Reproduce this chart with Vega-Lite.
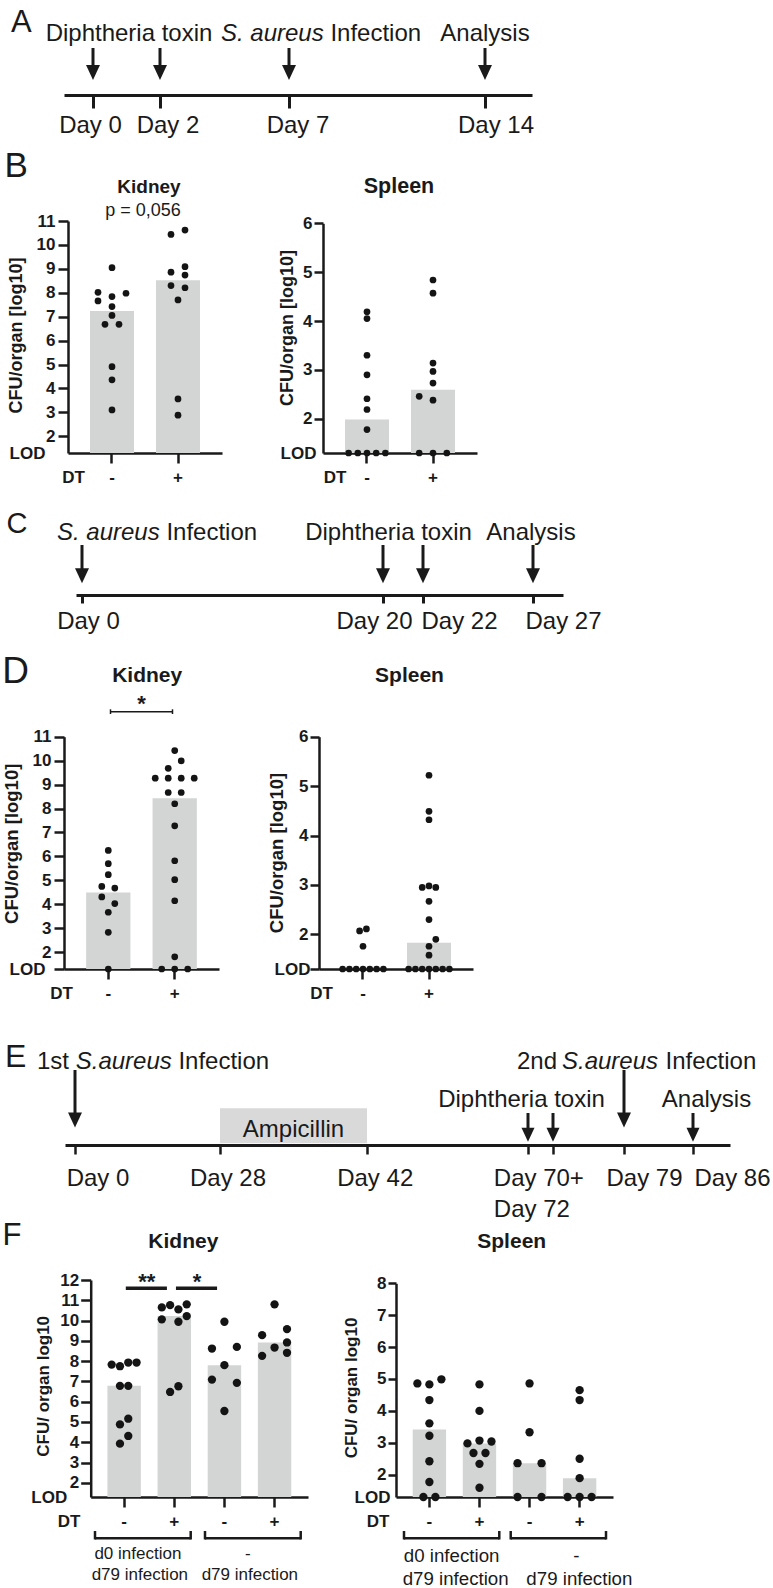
{
  "$schema": "https://vega.github.io/schema/vega-lite/v6.json",
  "padding": 0,
  "background": "white",
  "bounds": "flush",
  "spacing": 0,
  "config": {
    "view": {"stroke": null},
    "font": "Liberation Sans",
    "text": {"font": "Liberation Sans", "color": "#1a1a1a"},
    "axis": {"grid": false, "labelFont": "Liberation Sans", "titleFont": "Liberation Sans", "domainColor": "#1a1a1a", "tickColor": "#1a1a1a", "labelColor": "#1a1a1a", "titleColor": "#1a1a1a", "labelOverlap": false, "labelFlush": false}
  },
  "datasets": {
    "tlA": [{"day": 0, "event": "Diphtheria toxin"}, {"day": 2, "event": "Diphtheria toxin"}, {"day": 7, "event": "S. aureus Infection"}, {"day": 14, "event": "Analysis"}],
    "tlC": [{"day": 0, "event": "S. aureus Infection"}, {"day": 20, "event": "Diphtheria toxin"}, {"day": 22, "event": "Diphtheria toxin"}, {"day": 27, "event": "Analysis"}],
    "tlE": [{"day": 0, "event": "1st S.aureus Infection"}, {"day": 70, "event": "Diphtheria toxin"}, {"day": 72, "event": "Diphtheria toxin"}, {"day": 79, "event": "2nd S.aureus Infection"}, {"day": 86, "event": "Analysis"}],
    "amp": [{"day": 28, "phase": "Ampicillin"}, {"day": 42, "phase": "Ampicillin"}],
    "bk": [
      {"dt": "-", "v": 9.05, "c": 0}, {"dt": "-", "v": 8.02, "c": -2}, {"dt": "-", "v": 7.98, "c": 2}, {"dt": "-", "v": 7.84, "c": 0}, {"dt": "-", "v": 7.66, "c": -2}, {"dt": "-", "v": 7.42, "c": 0}, {"dt": "-", "v": 7.05, "c": 0}, {"dt": "-", "v": 6.68, "c": -1}, {"dt": "-", "v": 6.68, "c": 1}, {"dt": "-", "v": 4.91, "c": 0}, {"dt": "-", "v": 4.36, "c": 0}, {"dt": "-", "v": 3.1, "c": 0},
      {"dt": "+", "v": 10.44, "c": -1}, {"dt": "+", "v": 10.62, "c": 1}, {"dt": "+", "v": 8.86, "c": -1}, {"dt": "+", "v": 9.09, "c": 1}, {"dt": "+", "v": 8.74, "c": 1}, {"dt": "+", "v": 8.3, "c": -1}, {"dt": "+", "v": 8.21, "c": 1}, {"dt": "+", "v": 7.7, "c": 0}, {"dt": "+", "v": 3.56, "c": 0}, {"dt": "+", "v": 2.88, "c": 0}
    ],
    "bs": [
      {"dt": "-", "v": 4.19, "c": 0}, {"dt": "-", "v": 4.05, "c": 0}, {"dt": "-", "v": 3.3, "c": 0}, {"dt": "-", "v": 2.9, "c": 0}, {"dt": "-", "v": 2.41, "c": 0}, {"dt": "-", "v": 2.19, "c": 0}, {"dt": "-", "v": 1.78, "c": 0}, {"dt": "-", "v": 1.3, "c": -2}, {"dt": "-", "v": 1.3, "c": -1}, {"dt": "-", "v": 1.3, "c": 0}, {"dt": "-", "v": 1.3, "c": 1}, {"dt": "-", "v": 1.3, "c": 2},
      {"dt": "+", "v": 4.84, "c": 0}, {"dt": "+", "v": 4.57, "c": 0}, {"dt": "+", "v": 3.14, "c": 0}, {"dt": "+", "v": 2.97, "c": 0}, {"dt": "+", "v": 2.73, "c": 0}, {"dt": "+", "v": 2.46, "c": -1.5}, {"dt": "+", "v": 2.38, "c": 0}, {"dt": "+", "v": 1.3, "c": -1.5}, {"dt": "+", "v": 1.3, "c": 0}, {"dt": "+", "v": 1.3, "c": 1.5}
    ],
    "dk": [
      {"dt": "-", "v": 6.25, "c": 0}, {"dt": "-", "v": 5.7, "c": 0}, {"dt": "-", "v": 5.24, "c": 0}, {"dt": "-", "v": 4.75, "c": -1}, {"dt": "-", "v": 4.68, "c": 1}, {"dt": "-", "v": 4.31, "c": -1}, {"dt": "-", "v": 4.03, "c": 1}, {"dt": "-", "v": 3.67, "c": 0}, {"dt": "-", "v": 2.83, "c": 0}, {"dt": "-", "v": 1.3, "c": 0},
      {"dt": "+", "v": 10.42, "c": 0}, {"dt": "+", "v": 9.99, "c": 1}, {"dt": "+", "v": 9.68, "c": -1}, {"dt": "+", "v": 9.27, "c": -3}, {"dt": "+", "v": 9.27, "c": -1}, {"dt": "+", "v": 9.27, "c": 1}, {"dt": "+", "v": 9.27, "c": 3}, {"dt": "+", "v": 8.67, "c": -1}, {"dt": "+", "v": 8.67, "c": 1}, {"dt": "+", "v": 8.2, "c": 0}, {"dt": "+", "v": 7.28, "c": 0}, {"dt": "+", "v": 5.82, "c": 0}, {"dt": "+", "v": 5.03, "c": 0}, {"dt": "+", "v": 4.15, "c": 0}, {"dt": "+", "v": 1.81, "c": 0}, {"dt": "+", "v": 1.3, "c": -2}, {"dt": "+", "v": 1.3, "c": 0}, {"dt": "+", "v": 1.3, "c": 2}
    ],
    "ds": [
      {"dt": "-", "v": 2.07, "c": -0.5}, {"dt": "-", "v": 2.11, "c": 0.5}, {"dt": "-", "v": 1.76, "c": 0}, {"dt": "-", "v": 1.3, "c": -3}, {"dt": "-", "v": 1.3, "c": -2}, {"dt": "-", "v": 1.3, "c": -1}, {"dt": "-", "v": 1.3, "c": 0}, {"dt": "-", "v": 1.3, "c": 1}, {"dt": "-", "v": 1.3, "c": 2}, {"dt": "-", "v": 1.3, "c": 3},
      {"dt": "+", "v": 5.22, "c": 0}, {"dt": "+", "v": 4.49, "c": 0}, {"dt": "+", "v": 4.32, "c": 0}, {"dt": "+", "v": 2.95, "c": -1}, {"dt": "+", "v": 2.98, "c": 0}, {"dt": "+", "v": 2.95, "c": 1}, {"dt": "+", "v": 2.67, "c": 0}, {"dt": "+", "v": 2.3, "c": 0}, {"dt": "+", "v": 1.9, "c": 1}, {"dt": "+", "v": 1.76, "c": 0}, {"dt": "+", "v": 1.58, "c": 0}, {"dt": "+", "v": 1.3, "c": -3}, {"dt": "+", "v": 1.3, "c": -2}, {"dt": "+", "v": 1.3, "c": -1}, {"dt": "+", "v": 1.3, "c": 0}, {"dt": "+", "v": 1.3, "c": 1}, {"dt": "+", "v": 1.3, "c": 2}, {"dt": "+", "v": 1.3, "c": 3}
    ],
    "fk": [
      {"g": "d0 d79 -", "v": 7.83, "c": -1.5}, {"g": "d0 d79 -", "v": 7.75, "c": -0.5}, {"g": "d0 d79 -", "v": 7.93, "c": 0.5}, {"g": "d0 d79 -", "v": 7.93, "c": 1.5}, {"g": "d0 d79 -", "v": 6.78, "c": -0.5}, {"g": "d0 d79 -", "v": 6.78, "c": 0.5}, {"g": "d0 d79 -", "v": 5.16, "c": 0.5}, {"g": "d0 d79 -", "v": 4.88, "c": -0.5}, {"g": "d0 d79 -", "v": 4.31, "c": 0.5}, {"g": "d0 d79 -", "v": 3.93, "c": -0.5},
      {"g": "d0 d79 +", "v": 10.65, "c": -1.5}, {"g": "d0 d79 +", "v": 10.76, "c": -0.5}, {"g": "d0 d79 +", "v": 10.55, "c": 0.5}, {"g": "d0 d79 +", "v": 10.8, "c": 1.5}, {"g": "d0 d79 +", "v": 10.06, "c": -1.5}, {"g": "d0 d79 +", "v": 9.94, "c": 0.5}, {"g": "d0 d79 +", "v": 10.22, "c": 1.5}, {"g": "d0 d79 +", "v": 6.48, "c": -0.5}, {"g": "d0 d79 +", "v": 6.76, "c": 0.5},
      {"g": "d79 -", "v": 9.94, "c": 0}, {"g": "d79 -", "v": 8.62, "c": -1.5}, {"g": "d79 -", "v": 8.7, "c": 1.5}, {"g": "d79 -", "v": 7.8, "c": 0}, {"g": "d79 -", "v": 7.09, "c": -1.5}, {"g": "d79 -", "v": 6.93, "c": 1.5}, {"g": "d79 -", "v": 5.54, "c": 0},
      {"g": "d79 +", "v": 10.8, "c": 0}, {"g": "d79 +", "v": 9.28, "c": -1.5}, {"g": "d79 +", "v": 9.58, "c": 1.5}, {"g": "d79 +", "v": 8.67, "c": 0}, {"g": "d79 +", "v": 8.92, "c": 1.5}, {"g": "d79 +", "v": 8.26, "c": -1.5}, {"g": "d79 +", "v": 8.41, "c": 1.5}
    ],
    "fs": [
      {"g": "d0 d79 -", "v": 4.86, "c": -2}, {"g": "d0 d79 -", "v": 4.83, "c": 0}, {"g": "d0 d79 -", "v": 4.99, "c": 2}, {"g": "d0 d79 -", "v": 4.34, "c": 0}, {"g": "d0 d79 -", "v": 3.61, "c": 0}, {"g": "d0 d79 -", "v": 3.22, "c": 0}, {"g": "d0 d79 -", "v": 2.42, "c": 0}, {"g": "d0 d79 -", "v": 1.77, "c": 0}, {"g": "d0 d79 -", "v": 1.3, "c": -1}, {"g": "d0 d79 -", "v": 1.3, "c": 1},
      {"g": "d0 d79 +", "v": 4.83, "c": 0}, {"g": "d0 d79 +", "v": 4.0, "c": 0}, {"g": "d0 d79 +", "v": 2.98, "c": -2}, {"g": "d0 d79 +", "v": 3.07, "c": 0}, {"g": "d0 d79 +", "v": 3.04, "c": 2}, {"g": "d0 d79 +", "v": 2.68, "c": -1}, {"g": "d0 d79 +", "v": 2.68, "c": 1}, {"g": "d0 d79 +", "v": 2.34, "c": 0}, {"g": "d0 d79 +", "v": 1.59, "c": 0},
      {"g": "d79 -", "v": 4.86, "c": 0}, {"g": "d79 -", "v": 3.33, "c": 0}, {"g": "d79 -", "v": 2.36, "c": -2}, {"g": "d79 -", "v": 2.36, "c": 2}, {"g": "d79 -", "v": 1.3, "c": -2}, {"g": "d79 -", "v": 1.3, "c": 2},
      {"g": "d79 +", "v": 4.65, "c": 0}, {"g": "d79 +", "v": 4.34, "c": 0}, {"g": "d79 +", "v": 2.5, "c": 0}, {"g": "d79 +", "v": 1.89, "c": 0}, {"g": "d79 +", "v": 1.3, "c": -2}, {"g": "d79 +", "v": 1.3, "c": 0}, {"g": "d79 +", "v": 1.3, "c": 2}
    ],
    "sigD": [{"from": "-", "to": "+", "label": "*"}],
    "sigF": [{"from": "d0 d79 -", "to": "d0 d79 +", "label": "**"}, {"from": "d0 d79 +", "to": "d79 -", "label": "*"}],
    "grpF": [{"inf": "d0 d79", "l1": "d0 infection", "l2": "d79 infection"}, {"inf": "d79", "l1": "-", "l2": "d79 infection"}]
  },
  "vconcat": [
    {
      "width": 773, "height": 95,
      "data": {"name": "tlA"},
      "encoding": {"x": {"field": "day", "type": "quantitative",
        "scale": {"domain": [-1, 0, 2, 7, 14, 16], "range": [64, 93, 160, 289, 485, 532], "nice": false, "zero": false},
        "axis": {"orient": "bottom", "title": null, "values": [0, 2, 7, 14], "labelExpr": "'Day ' + datum.value", "domainWidth": 3, "tickWidth": 3, "tickSize": 13, "labelFontSize": 24, "labelPadding": 5,
          "labelOffset": {"condition": [{"test": "datum.value == 0", "value": -3}, {"test": "datum.value == 2", "value": 7.5}, {"test": "datum.value == 7", "value": 8.5}], "value": 10.5}}}},
      "layer": [
        {"mark": {"type": "rule", "strokeWidth": 3, "color": "#1a1a1a"}, "encoding": {"y": {"value": 48}, "y2": {"value": 69}}},
        {"mark": {"type": "point", "shape": "M-0.93,-1L0.93,-1L0,1Z", "filled": true, "size": 225, "opacity": 1, "color": "#1a1a1a"}, "encoding": {"y": {"value": 72.5}}},
        {"data": {"values": [{}]}, "mark": {"type": "point", "shape": "M-1,-0.74L1,0L-1,0.74Z", "filled": true, "size": 324, "opacity": 1, "color": "#1a1a1a", "xOffset": -9}, "encoding": {"x": {"datum": 16}, "y": {"value": 95}}},
        {"transform": [{"filter": "datum.event == 'Diphtheria toxin'"}], "mark": {"type": "text", "fontSize": 24, "baseline": "alphabetic", "dx": 2.5}, "encoding": {"x": {"aggregate": "mean", "field": "day", "type": "quantitative"}, "y": {"value": 41}, "text": {"field": "event"}}},
        {"transform": [{"filter": "datum.event == 'S. aureus Infection'"}], "mark": {"type": "text", "fontSize": 24, "fontStyle": "italic", "align": "right", "baseline": "alphabetic", "dx": 34.7}, "encoding": {"y": {"value": 41}, "text": {"value": "S. aureus"}}},
        {"transform": [{"filter": "datum.event == 'S. aureus Infection'"}], "mark": {"type": "text", "fontSize": 24, "align": "left", "baseline": "alphabetic", "dx": 41.4}, "encoding": {"y": {"value": 41}, "text": {"value": "Infection"}}},
        {"transform": [{"filter": "datum.event == 'Analysis'"}], "mark": {"type": "text", "fontSize": 24, "baseline": "alphabetic"}, "encoding": {"y": {"value": 41}, "text": {"field": "event"}}},
        {"data": {"values": [{}]}, "mark": {"type": "text", "fontSize": 31, "align": "left", "baseline": "alphabetic"}, "encoding": {"x": {"value": 11}, "y": {"value": 32}, "text": {"value": "A"}}}
      ]
    },
    {
      "width": 773, "height": 358,
      "resolve": {"scale": {"x": "independent", "y": "independent", "xOffset": "independent"}},
      "layer": [
        {
          "data": {"name": "bk"},
          "resolve": {"scale": {"xOffset": "independent"}},
          "encoding": {
            "x": {"field": "dt", "type": "nominal", "scale": {"domain": ["-", "+"], "range": [68, 222], "paddingInner": 0.3333, "paddingOuter": 0.3333},
              "axis": {"orient": "bottom", "title": null, "labelAngle": 0, "domainWidth": 2.5, "tickWidth": 2.5, "tickSize": 10, "labelFontSize": 17, "labelFontWeight": "bold", "labelPadding": 6.5}},
            "y": {"field": "v", "type": "quantitative", "scale": {"domain": [1.3, 11], "range": [358, 126], "nice": false, "zero": false},
              "axis": {"orient": "left", "offset": -68, "values": [1.3, 2, 3, 4, 5, 6, 7, 8, 9, 10, 11], "labelExpr": "datum.value < 1.5 ? 'LOD' : datum.label", "title": "CFU/organ [log10]", "titleFontSize": 18, "titleFontWeight": "bold", "titleX": -52, "titleY": 240, "titleAngle": 270, "titleBaseline": "middle", "titleAlign": "center", "domainWidth": 2.5, "tickWidth": 2.5, "tickSize": 10, "labelFontSize": 17, "labelFontWeight": "bold",
                "labelPadding": {"condition": {"test": "datum.value < 1.5", "value": 13}, "value": 3}, "tickOpacity": {"condition": {"test": "datum.value < 1.5", "value": 0}, "value": 1}}}
          },
          "layer": [
            {"mark": {"type": "bar", "color": "#d3d4d4"}, "encoding": {"y": {"aggregate": "median", "field": "v", "type": "quantitative"}, "y2": {"datum": 1.3}}},
            {"mark": {"type": "point", "shape": "circle", "filled": true, "opacity": 1, "size": 45, "color": "#141414"}, "encoding": {"xOffset": {"field": "c", "type": "quantitative", "scale": {"domain": [-4, 4], "range": [-6, 50]}}}}
          ]
        },
        {
          "data": {"name": "bs"},
          "resolve": {"scale": {"xOffset": "independent"}},
          "encoding": {
            "x": {"field": "dt", "type": "nominal", "scale": {"domain": ["-", "+"], "range": [323, 477], "paddingInner": 0.3333, "paddingOuter": 0.3333},
              "axis": {"orient": "bottom", "title": null, "labelAngle": 0, "domainWidth": 2.5, "tickWidth": 2.5, "tickSize": 10, "labelFontSize": 17, "labelFontWeight": "bold", "labelPadding": 6.5}},
            "y": {"field": "v", "type": "quantitative", "scale": {"domain": [1.3, 6], "range": [358, 128.3], "nice": false, "zero": false},
              "axis": {"orient": "left", "offset": -323, "values": [1.3, 2, 3, 4, 5, 6], "labelExpr": "datum.value < 1.5 ? 'LOD' : datum.label", "title": "CFU/organ [log10]", "titleFontSize": 18, "titleFontWeight": "bold", "titleX": -36, "titleY": 232.5, "titleAngle": 270, "titleBaseline": "middle", "titleAlign": "center", "domainWidth": 2.5, "tickWidth": 2.5, "tickSize": 9, "labelFontSize": 17, "labelFontWeight": "bold",
                "labelPadding": {"condition": {"test": "datum.value < 1.5", "value": -2}, "value": 2}, "tickOpacity": {"condition": {"test": "datum.value < 1.5", "value": 0}, "value": 1}}}
          },
          "layer": [
            {"mark": {"type": "bar", "color": "#d3d4d4"}, "encoding": {"y": {"aggregate": "median", "field": "v", "type": "quantitative"}, "y2": {"datum": 1.3}}},
            {"mark": {"type": "point", "shape": "circle", "filled": true, "opacity": 1, "size": 45, "color": "#141414"}, "encoding": {"xOffset": {"field": "c", "type": "quantitative", "scale": {"domain": [-4, 4], "range": [-14.8, 58.8]}}}}
          ]
        },
        {"data": {"values": [{}]}, "mark": {"type": "text", "fontSize": 35, "align": "left", "baseline": "alphabetic"}, "encoding": {"x": {"value": 4.5}, "y": {"value": 82}, "text": {"value": "B"}}},
        {"data": {"values": [{}]}, "mark": {"type": "text", "fontSize": 19, "fontWeight": "bold", "baseline": "alphabetic"}, "encoding": {"x": {"value": 149}, "y": {"value": 98.3}, "text": {"value": "Kidney"}}},
        {"data": {"values": [{}]}, "mark": {"type": "text", "fontSize": 18, "baseline": "alphabetic"}, "encoding": {"x": {"value": 143}, "y": {"value": 121}, "text": {"value": "p = 0,056"}}},
        {"data": {"values": [{}]}, "mark": {"type": "text", "fontSize": 21.5, "fontWeight": "bold", "baseline": "alphabetic"}, "encoding": {"x": {"value": 399}, "y": {"value": 98.3}, "text": {"value": "Spleen"}}},
        {"data": {"values": [{}]}, "mark": {"type": "text", "fontSize": 17, "fontWeight": "bold", "baseline": "alphabetic"}, "encoding": {"x": {"value": 73.5}, "y": {"value": 388}, "text": {"value": "DT"}}},
        {"data": {"values": [{}]}, "mark": {"type": "text", "fontSize": 17, "fontWeight": "bold", "baseline": "alphabetic"}, "encoding": {"x": {"value": 335}, "y": {"value": 388}, "text": {"value": "DT"}}}
      ]
    },
    {
      "width": 773, "height": 142,
      "data": {"name": "tlC"},
      "encoding": {"x": {"field": "day", "type": "quantitative",
        "scale": {"domain": [-0.4, 0, 20, 22, 27, 29], "range": [76, 82, 383, 423, 533, 563], "nice": false, "zero": false},
        "axis": {"orient": "bottom", "title": null, "values": [0, 20, 22, 27], "labelExpr": "'Day ' + datum.value", "domainWidth": 3, "tickWidth": 3, "tickSize": 8, "labelFontSize": 24, "labelPadding": 6.6,
          "labelOffset": {"condition": [{"test": "datum.value == 0", "value": 6}, {"test": "datum.value == 20", "value": -9}, {"test": "datum.value == 22", "value": 36}], "value": 30}}}},
      "layer": [
        {"mark": {"type": "rule", "strokeWidth": 3, "color": "#1a1a1a"}, "encoding": {"y": {"value": 92}, "y2": {"value": 119}}},
        {"mark": {"type": "point", "shape": "M-0.93,-1L0.93,-1L0,1Z", "filled": true, "size": 225, "opacity": 1, "color": "#1a1a1a"}, "encoding": {"y": {"value": 122.8}}},
        {"data": {"values": [{}]}, "mark": {"type": "point", "shape": "M-1,-0.74L1,0L-1,0.74Z", "filled": true, "size": 324, "opacity": 1, "color": "#1a1a1a", "xOffset": -9}, "encoding": {"x": {"datum": 29}, "y": {"value": 142}}},
        {"transform": [{"filter": "datum.event == 'S. aureus Infection'"}], "mark": {"type": "text", "fontSize": 24, "fontStyle": "italic", "align": "right", "baseline": "alphabetic", "dx": 77.7}, "encoding": {"y": {"value": 87.3}, "text": {"value": "S. aureus"}}},
        {"transform": [{"filter": "datum.event == 'S. aureus Infection'"}], "mark": {"type": "text", "fontSize": 24, "align": "left", "baseline": "alphabetic", "dx": 84.4}, "encoding": {"y": {"value": 87.3}, "text": {"value": "Infection"}}},
        {"transform": [{"filter": "datum.event == 'Diphtheria toxin'"}], "mark": {"type": "text", "fontSize": 24, "baseline": "alphabetic", "dx": -14.5}, "encoding": {"x": {"aggregate": "mean", "field": "day", "type": "quantitative"}, "y": {"value": 87.3}, "text": {"field": "event"}}},
        {"transform": [{"filter": "datum.event == 'Analysis'"}], "mark": {"type": "text", "fontSize": 24, "baseline": "alphabetic", "dx": -2}, "encoding": {"y": {"value": 87.3}, "text": {"field": "event"}}},
        {"data": {"values": [{}]}, "mark": {"type": "text", "fontSize": 29, "align": "left", "baseline": "alphabetic"}, "encoding": {"x": {"value": 6.6}, "y": {"value": 80}, "text": {"value": "C"}}}
      ]
    },
    {
      "width": 773, "height": 374,
      "resolve": {"scale": {"x": "independent", "y": "independent", "xOffset": "independent"}},
      "layer": [
        {
          "data": {"name": "dk"},
          "resolve": {"scale": {"xOffset": "independent"}},
          "encoding": {
            "x": {"field": "dt", "type": "nominal", "scale": {"domain": ["-", "+"], "range": [64, 219], "paddingInner": 0.3333, "paddingOuter": 0.3333},
              "axis": {"orient": "bottom", "title": null, "labelAngle": 0, "domainWidth": 2.5, "tickWidth": 2.5, "tickSize": 10, "labelFontSize": 17, "labelFontWeight": "bold", "labelPadding": 6.5}},
            "y": {"field": "v", "type": "quantitative", "scale": {"domain": [1.3, 11], "range": [374, 141.7], "nice": false, "zero": false},
              "axis": {"orient": "left", "offset": -64, "values": [1.3, 2, 3, 4, 5, 6, 7, 8, 9, 10, 11], "labelExpr": "datum.value < 1.5 ? 'LOD' : datum.label", "title": "CFU/organ [log10]", "titleFontSize": 18.5, "titleFontWeight": "bold", "titleX": -53, "titleY": 248.3, "titleAngle": 270, "titleBaseline": "middle", "titleAlign": "center", "domainWidth": 2.5, "tickWidth": 2.5, "tickSize": 10, "labelFontSize": 17, "labelFontWeight": "bold",
                "labelPadding": {"condition": {"test": "datum.value < 1.5", "value": 9}, "value": 3}}}
          },
          "layer": [
            {"mark": {"type": "bar", "color": "#d3d4d4"}, "encoding": {"y": {"aggregate": "median", "field": "v", "type": "quantitative"}, "y2": {"datum": 1.3}}},
            {"mark": {"type": "point", "shape": "circle", "filled": true, "opacity": 1, "size": 45, "color": "#141414"}, "encoding": {"xOffset": {"field": "c", "type": "quantitative", "scale": {"domain": [-4, 4], "range": [-3.85, 48.15]}}}},
            {"data": {"name": "sigD"}, "mark": {"type": "rule", "strokeWidth": 1.5, "color": "#1a1a1a"}, "encoding": {"x": {"field": "from", "type": "nominal", "bandPosition": 0.55}, "x2": {"field": "to", "bandPosition": 0.45}, "y": {"value": 116.7}}},
            {"data": {"name": "sigD"}, "mark": {"type": "rule", "strokeWidth": 1.5, "color": "#1a1a1a"}, "encoding": {"x": {"field": "from", "type": "nominal", "bandPosition": 0.55}, "y": {"value": 114.3}, "y2": {"value": 119}}},
            {"data": {"name": "sigD"}, "mark": {"type": "rule", "strokeWidth": 1.5, "color": "#1a1a1a"}, "encoding": {"x": {"field": "to", "type": "nominal", "bandPosition": 0.45}, "y": {"value": 114.3}, "y2": {"value": 119}}},
            {"data": {"name": "sigD"}, "mark": {"type": "text", "fontSize": 22, "fontWeight": "bold", "baseline": "alphabetic"}, "encoding": {"x": {"field": "from", "type": "nominal", "bandPosition": 1.25}, "y": {"value": 116}, "text": {"field": "label"}}}
          ]
        },
        {
          "data": {"name": "ds"},
          "resolve": {"scale": {"xOffset": "independent"}},
          "encoding": {
            "x": {"field": "dt", "type": "nominal", "scale": {"domain": ["-", "+"], "range": [319, 473], "paddingInner": 0.3333, "paddingOuter": 0.3333},
              "axis": {"orient": "bottom", "title": null, "labelAngle": 0, "domainWidth": 2.5, "tickWidth": 2.5, "tickSize": 10, "labelFontSize": 17, "labelFontWeight": "bold", "labelPadding": 6.5}},
            "y": {"field": "v", "type": "quantitative", "scale": {"domain": [1.3, 6], "range": [374, 141.7], "nice": false, "zero": false},
              "axis": {"orient": "left", "offset": -319, "values": [1.3, 2, 3, 4, 5, 6], "labelExpr": "datum.value < 1.5 ? 'LOD' : datum.label", "title": "CFU/organ [log10]", "titleFontSize": 18.5, "titleFontWeight": "bold", "titleX": -43, "titleY": 257.5, "titleAngle": 270, "titleBaseline": "middle", "titleAlign": "center", "domainWidth": 2.5, "tickWidth": 2.5, "tickSize": 9, "labelFontSize": 17, "labelFontWeight": "bold",
                "labelPadding": {"condition": {"test": "datum.value < 1.5", "value": 0}, "value": 2}}}
          },
          "layer": [
            {"mark": {"type": "bar", "color": "#d3d4d4"}, "encoding": {"y": {"aggregate": "median", "field": "v", "type": "quantitative"}, "y2": {"datum": 1.3}}},
            {"mark": {"type": "point", "shape": "circle", "filled": true, "opacity": 1, "size": 45, "color": "#141414"}, "encoding": {"xOffset": {"field": "c", "type": "quantitative", "scale": {"domain": [-4, 4], "range": [-5.2, 49.2]}}}}
          ]
        },
        {"data": {"values": [{}]}, "mark": {"type": "text", "fontSize": 37, "align": "left", "baseline": "alphabetic"}, "encoding": {"x": {"value": 2.2}, "y": {"value": 88}, "text": {"value": "D"}}},
        {"data": {"values": [{}]}, "mark": {"type": "text", "fontSize": 21, "fontWeight": "bold", "baseline": "alphabetic"}, "encoding": {"x": {"value": 147.2}, "y": {"value": 86.7}, "text": {"value": "Kidney"}}},
        {"data": {"values": [{}]}, "mark": {"type": "text", "fontSize": 21, "fontWeight": "bold", "baseline": "alphabetic"}, "encoding": {"x": {"value": 409.5}, "y": {"value": 86.5}, "text": {"value": "Spleen"}}},
        {"data": {"values": [{}]}, "mark": {"type": "text", "fontSize": 17, "fontWeight": "bold", "baseline": "alphabetic"}, "encoding": {"x": {"value": 61.6}, "y": {"value": 404}, "text": {"value": "DT"}}},
        {"data": {"values": [{}]}, "mark": {"type": "text", "fontSize": 17, "fontWeight": "bold", "baseline": "alphabetic"}, "encoding": {"x": {"value": 321.6}, "y": {"value": 404}, "text": {"value": "DT"}}}
      ]
    },
    {
      "width": 773, "height": 176,
      "data": {"name": "tlE"},
      "encoding": {"x": {"field": "day", "type": "quantitative",
        "scale": {"domain": [-2, 0, 28, 42, 70, 72, 79, 86, 90], "range": [65, 75, 220, 367, 528, 553, 624, 693, 730], "nice": false, "zero": false},
        "axis": {"orient": "bottom", "title": null, "values": [0, 28, 42, 70, 72, 79, 86], "labelExpr": "datum.value == 70 ? ['Day 70+', 'Day 72'] : datum.value == 72 ? '' : 'Day ' + datum.value", "domainWidth": 3, "tickWidth": 2.5, "tickSize": 9, "labelFontSize": 24, "labelPadding": 12.3, "labelLineHeight": 31.6,
          "labelAlign": {"condition": {"test": "datum.value == 70", "value": "left"}, "value": "center"},
          "labelOffset": {"condition": [{"test": "datum.value == 0", "value": 22.5}, {"test": "datum.value == 28", "value": 7.5}, {"test": "datum.value == 42", "value": 7.7}, {"test": "datum.value == 70", "value": -34.7}, {"test": "datum.value == 79", "value": 20}], "value": 39}}}},
      "layer": [
        {"data": {"name": "amp"}, "mark": {"type": "rect", "color": "#d9d9d9"}, "encoding": {"x": {"aggregate": "min", "field": "day", "type": "quantitative"}, "x2": {"aggregate": "max", "field": "day"}, "y": {"value": 139.3}, "y2": {"value": 174.3}}},
        {"data": {"name": "amp"}, "mark": {"type": "text", "fontSize": 24, "baseline": "alphabetic"}, "encoding": {"x": {"aggregate": "mean", "field": "day", "type": "quantitative"}, "y": {"value": 167.7}, "text": {"field": "phase"}}},
        {"transform": [{"filter": "indexof(datum.event, 'Infection') >= 0"}], "mark": {"type": "rule", "strokeWidth": 3, "color": "#1a1a1a"}, "encoding": {"y": {"value": 101}, "y2": {"value": 148}}},
        {"transform": [{"filter": "indexof(datum.event, 'Infection') >= 0"}], "mark": {"type": "point", "shape": "M-0.93,-1L0.93,-1L0,1Z", "filled": true, "size": 225, "opacity": 1, "color": "#1a1a1a"}, "encoding": {"y": {"value": 151}}},
        {"transform": [{"filter": "indexof(datum.event, 'Infection') < 0"}], "mark": {"type": "rule", "strokeWidth": 3, "color": "#1a1a1a"}, "encoding": {"y": {"value": 144}, "y2": {"value": 161}}},
        {"transform": [{"filter": "indexof(datum.event, 'Infection') < 0"}], "mark": {"type": "point", "shape": "M-0.93,-1L0.93,-1L0,1Z", "filled": true, "size": 196, "opacity": 1, "color": "#1a1a1a"}, "encoding": {"y": {"value": 165.7}}},
        {"data": {"values": [{}]}, "mark": {"type": "point", "shape": "M-1,-0.74L1,0L-1,0.74Z", "filled": true, "size": 324, "opacity": 1, "color": "#1a1a1a", "xOffset": -9}, "encoding": {"x": {"datum": 90}, "y": {"value": 176}}},
        {"transform": [{"filter": "datum.event == '1st S.aureus Infection'"}], "mark": {"type": "text", "fontSize": 24, "align": "right", "baseline": "alphabetic", "dx": -6}, "encoding": {"y": {"value": 99.6}, "text": {"value": "1st"}}},
        {"transform": [{"filter": "datum.event == '1st S.aureus Infection'"}], "mark": {"type": "text", "fontSize": 24, "fontStyle": "italic", "align": "left", "baseline": "alphabetic", "dx": 0.7}, "encoding": {"y": {"value": 99.6}, "text": {"value": "S.aureus"}}},
        {"transform": [{"filter": "datum.event == '1st S.aureus Infection'"}], "mark": {"type": "text", "fontSize": 24, "align": "left", "baseline": "alphabetic", "dx": 103.4}, "encoding": {"y": {"value": 99.6}, "text": {"value": "Infection"}}},
        {"transform": [{"filter": "datum.event == '2nd S.aureus Infection'"}], "mark": {"type": "text", "fontSize": 24, "align": "right", "baseline": "alphabetic", "dx": -67}, "encoding": {"y": {"value": 99.6}, "text": {"value": "2nd"}}},
        {"transform": [{"filter": "datum.event == '2nd S.aureus Infection'"}], "mark": {"type": "text", "fontSize": 24, "fontStyle": "italic", "align": "left", "baseline": "alphabetic", "dx": -62}, "encoding": {"y": {"value": 99.6}, "text": {"value": "S.aureus"}}},
        {"transform": [{"filter": "datum.event == '2nd S.aureus Infection'"}], "mark": {"type": "text", "fontSize": 24, "align": "left", "baseline": "alphabetic", "dx": 41.5}, "encoding": {"y": {"value": 99.6}, "text": {"value": "Infection"}}},
        {"transform": [{"filter": "datum.event == 'Diphtheria toxin'"}], "mark": {"type": "text", "fontSize": 24, "baseline": "alphabetic", "dx": -19}, "encoding": {"x": {"aggregate": "mean", "field": "day", "type": "quantitative"}, "y": {"value": 137.6}, "text": {"field": "event"}}},
        {"transform": [{"filter": "datum.event == 'Analysis'"}], "mark": {"type": "text", "fontSize": 24, "baseline": "alphabetic", "dx": 13.5}, "encoding": {"y": {"value": 137.6}, "text": {"field": "event"}}},
        {"data": {"values": [{}]}, "mark": {"type": "text", "fontSize": 32, "align": "left", "baseline": "alphabetic"}, "encoding": {"x": {"value": 4.9}, "y": {"value": 98}, "text": {"value": "E"}}}
      ]
    },
    {
      "width": 773, "height": 352,
      "resolve": {"scale": {"x": "independent", "y": "independent", "xOffset": "independent"}},
      "layer": [
        {
          "data": {"name": "fk"},
          "resolve": {"scale": {"xOffset": "independent"}},
          "encoding": {
            "x": {"field": "g", "type": "nominal", "scale": {"domain": ["d0 d79 -", "d0 d79 +", "d79 -", "d79 +"], "range": [90.7, 308], "paddingInner": 0.3333, "paddingOuter": 0.3333},
              "axis": {"orient": "bottom", "title": null, "labelAngle": 0, "labelExpr": "slice(datum.label, -1)", "domainWidth": 2.5, "tickWidth": 2.5, "tickSize": 10, "labelFontSize": 17, "labelFontWeight": "bold", "labelPadding": 6.5}},
            "y": {"field": "v", "type": "quantitative", "scale": {"domain": [1.3, 12], "range": [352, 135], "nice": false, "zero": false},
              "axis": {"orient": "left", "offset": -90.7, "values": [1.3, 2, 3, 4, 5, 6, 7, 8, 9, 10, 11, 12], "labelExpr": "datum.value < 1.5 ? 'LOD' : datum.label", "title": "CFU/ organ log10", "titleFontSize": 17, "titleFontWeight": "bold", "titleX": -47.4, "titleY": 240.8, "titleAngle": 270, "titleBaseline": "middle", "titleAlign": "center", "domainWidth": 2.5, "tickWidth": 2.5, "tickSize": 10, "labelFontSize": 17, "labelFontWeight": "bold",
                "labelPadding": {"condition": {"test": "datum.value < 1.5", "value": 14}, "value": 2}, "tickOpacity": {"condition": {"test": "datum.value < 1.5", "value": 0}, "value": 1}}}
          },
          "layer": [
            {"mark": {"type": "bar", "color": "#d3d4d4"}, "encoding": {"y": {"aggregate": "median", "field": "v", "type": "quantitative"}, "y2": {"datum": 1.3}}},
            {"mark": {"type": "point", "shape": "circle", "filled": true, "opacity": 1, "size": 69, "color": "#141414"}, "encoding": {"xOffset": {"field": "c", "type": "quantitative", "scale": {"domain": [-4, 4], "range": [-16.5, 49.9]}}}},
            {"data": {"name": "sigF"}, "mark": {"type": "rule", "strokeWidth": 3.5, "color": "#1a1a1a"}, "encoding": {"x": {"field": "from", "type": "nominal", "bandPosition": 0.55}, "x2": {"field": "to", "bandPosition": 0.28}, "y": {"value": 143.3}}},
            {"data": {"name": "sigF"}, "mark": {"type": "text", "fontSize": 22, "fontWeight": "bold", "baseline": "alphabetic"}, "encoding": {"x": {"field": "from", "type": "nominal", "bandPosition": 1.18}, "y": {"value": 144.4}, "text": {"field": "label"}}}
          ]
        },
        {
          "data": {"name": "fs"},
          "resolve": {"scale": {"xOffset": "independent"}},
          "encoding": {
            "x": {"field": "g", "type": "nominal", "scale": {"domain": ["d0 d79 -", "d0 d79 +", "d79 -", "d79 +"], "range": [396, 613], "paddingInner": 0.3333, "paddingOuter": 0.3333},
              "axis": {"orient": "bottom", "title": null, "labelAngle": 0, "labelExpr": "slice(datum.label, -1)", "domainWidth": 2.5, "tickWidth": 2.5, "tickSize": 10, "labelFontSize": 17, "labelFontWeight": "bold", "labelPadding": 6.5}},
            "y": {"field": "v", "type": "quantitative", "scale": {"domain": [1.3, 8], "range": [352, 138.3], "nice": false, "zero": false},
              "axis": {"orient": "left", "offset": -396, "values": [1.3, 2, 3, 4, 5, 6, 7, 8], "labelExpr": "datum.value < 1.5 ? 'LOD' : datum.label", "title": "CFU/ organ log10", "titleFontSize": 17, "titleFontWeight": "bold", "titleX": -44.3, "titleY": 242.5, "titleAngle": 270, "titleBaseline": "middle", "titleAlign": "center", "domainWidth": 2.5, "tickWidth": 2.5, "tickSize": 8, "labelFontSize": 17, "labelFontWeight": "bold",
                "labelPadding": {"condition": {"test": "datum.value < 1.5", "value": -2}, "value": 2}, "tickOpacity": {"condition": {"test": "datum.value < 1.5", "value": 0}, "value": 1}}}
          },
          "layer": [
            {"mark": {"type": "bar", "color": "#d3d4d4"}, "encoding": {"y": {"aggregate": "median", "field": "v", "type": "quantitative"}, "y2": {"datum": 1.3}}},
            {"mark": {"type": "point", "shape": "circle", "filled": true, "opacity": 1, "size": 69, "color": "#141414"}, "encoding": {"xOffset": {"field": "c", "type": "quantitative", "scale": {"domain": [-4, 4], "range": [-7.3, 40.7]}}}}
          ]
        },
        {
          "data": {"name": "grpF"},
          "encoding": {"x": {"field": "inf", "type": "nominal", "scale": {"domain": ["d0 d79", "d79"], "range": [95, 300.7], "paddingInner": 0.13, "paddingOuter": 0}, "axis": null}},
          "layer": [
            {"mark": {"type": "bar", "color": "#1a1a1a"}, "encoding": {"y": {"value": 392}, "y2": {"value": 394.5}}},
            {"mark": {"type": "rule", "strokeWidth": 2.5, "color": "#1a1a1a"}, "encoding": {"x": {"field": "inf", "type": "nominal", "bandPosition": 0}, "y": {"value": 386}, "y2": {"value": 394.5}}},
            {"mark": {"type": "rule", "strokeWidth": 2.5, "color": "#1a1a1a"}, "encoding": {"x": {"field": "inf", "type": "nominal", "bandPosition": 1}, "y": {"value": 386}, "y2": {"value": 394.5}}},
            {"mark": {"type": "text", "fontSize": 17, "baseline": "alphabetic", "dx": -5}, "encoding": {"y": {"value": 414.1}, "text": {"field": "l1"}}},
            {"mark": {"type": "text", "fontSize": 17, "baseline": "alphabetic", "dx": -3}, "encoding": {"y": {"value": 435.1}, "text": {"field": "l2"}}}
          ]
        },
        {
          "data": {"name": "grpF"},
          "encoding": {"x": {"field": "inf", "type": "nominal", "scale": {"domain": ["d0 d79", "d79"], "range": [404, 606], "paddingInner": 0.107, "paddingOuter": 0}, "axis": null}},
          "layer": [
            {"mark": {"type": "bar", "color": "#1a1a1a"}, "encoding": {"y": {"value": 392}, "y2": {"value": 394.5}}},
            {"mark": {"type": "rule", "strokeWidth": 2.5, "color": "#1a1a1a"}, "encoding": {"x": {"field": "inf", "type": "nominal", "bandPosition": 0}, "y": {"value": 386}, "y2": {"value": 394.5}}},
            {"mark": {"type": "rule", "strokeWidth": 2.5, "color": "#1a1a1a"}, "encoding": {"x": {"field": "inf", "type": "nominal", "bandPosition": 1}, "y": {"value": 386}, "y2": {"value": 394.5}}},
            {"transform": [{"filter": "datum.inf == 'd0 d79'"}], "mark": {"type": "text", "fontSize": 18.7, "baseline": "alphabetic"}, "encoding": {"y": {"value": 416.7}, "text": {"field": "l1"}}},
            {"transform": [{"filter": "datum.inf == 'd0 d79'"}], "mark": {"type": "text", "fontSize": 18.7, "baseline": "alphabetic", "dx": 4}, "encoding": {"y": {"value": 440}, "text": {"field": "l2"}}},
            {"transform": [{"filter": "datum.inf == 'd79'"}], "mark": {"type": "text", "fontSize": 18.7, "baseline": "alphabetic", "dx": 18}, "encoding": {"y": {"value": 416.7}, "text": {"field": "l1"}}},
            {"transform": [{"filter": "datum.inf == 'd79'"}], "mark": {"type": "text", "fontSize": 18.7, "baseline": "alphabetic", "dx": 21}, "encoding": {"y": {"value": 440}, "text": {"field": "l2"}}}
          ]
        },
        {"data": {"values": [{}]}, "mark": {"type": "text", "fontSize": 31, "align": "left", "baseline": "alphabetic"}, "encoding": {"x": {"value": 2.5}, "y": {"value": 100}, "text": {"value": "F"}}},
        {"data": {"values": [{}]}, "mark": {"type": "text", "fontSize": 21, "fontWeight": "bold", "baseline": "alphabetic"}, "encoding": {"x": {"value": 183.3}, "y": {"value": 103.3}, "text": {"value": "Kidney"}}},
        {"data": {"values": [{}]}, "mark": {"type": "text", "fontSize": 21, "fontWeight": "bold", "baseline": "alphabetic"}, "encoding": {"x": {"value": 511.7}, "y": {"value": 103.3}, "text": {"value": "Spleen"}}},
        {"data": {"values": [{}]}, "mark": {"type": "text", "fontSize": 17, "fontWeight": "bold", "baseline": "alphabetic"}, "encoding": {"x": {"value": 69}, "y": {"value": 382}, "text": {"value": "DT"}}},
        {"data": {"values": [{}]}, "mark": {"type": "text", "fontSize": 17, "fontWeight": "bold", "baseline": "alphabetic"}, "encoding": {"x": {"value": 378}, "y": {"value": 382}, "text": {"value": "DT"}}}
      ]
    }
  ]
}
